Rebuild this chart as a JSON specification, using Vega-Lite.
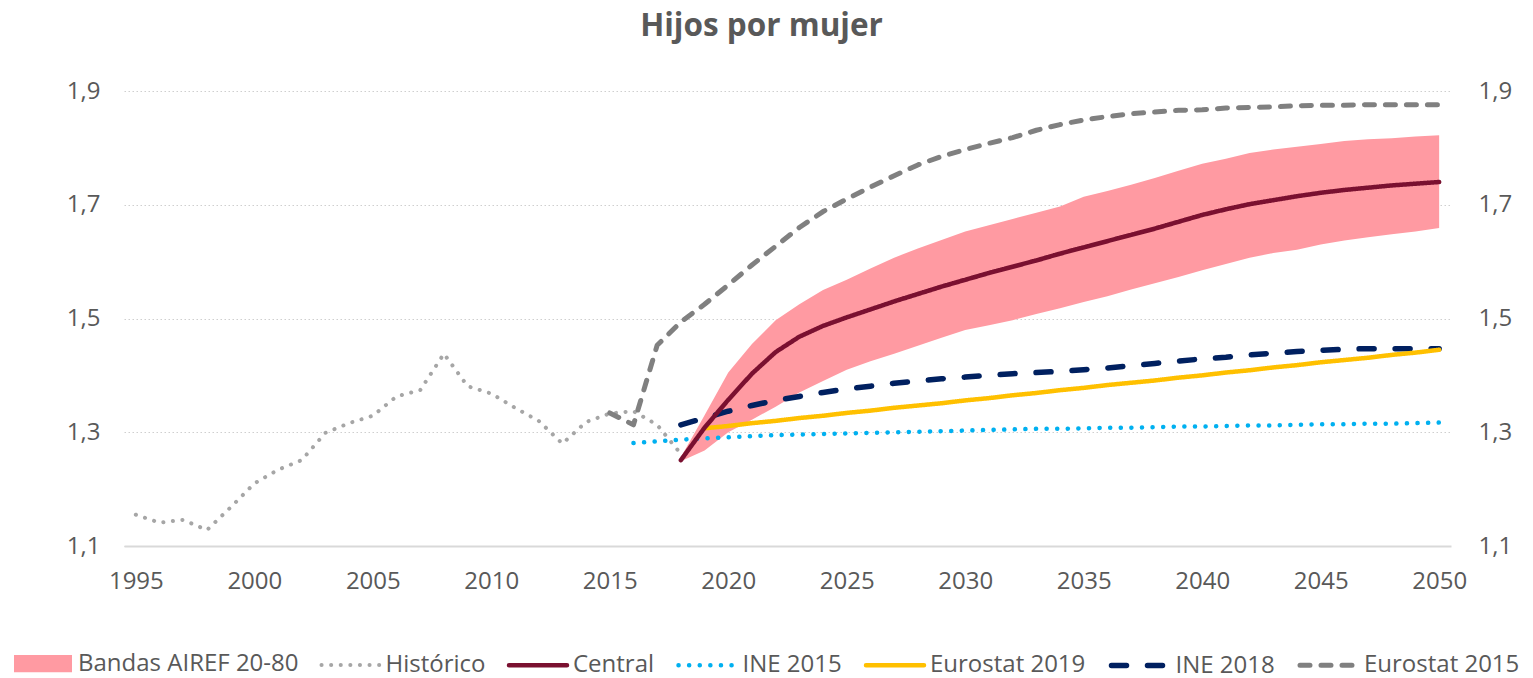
{
  "$schema": "https://vega.github.io/schema/vega-lite/v6.json",
  "width": 1327,
  "height": 455,
  "autosize": {"type": "none"},
  "padding": {"left": 124, "top": 91, "right": 82, "bottom": 132},
  "background": "#ffffff",
  "title": {"text": "Hijos por mujer", "font": "Open Sans", "fontSize": 31.5, "fontWeight": "bold", "color": "#595959", "anchor": "middle", "dx": -26, "offset": 37},
  "datasets": {
    "band": [
      {"year": 2018, "lo": 1.249, "hi": 1.256},
      {"year": 2019, "lo": 1.268, "hi": 1.330},
      {"year": 2020, "lo": 1.300, "hi": 1.405},
      {"year": 2021, "lo": 1.322, "hi": 1.455},
      {"year": 2022, "lo": 1.345, "hi": 1.497},
      {"year": 2023, "lo": 1.370, "hi": 1.525},
      {"year": 2024, "lo": 1.390, "hi": 1.550},
      {"year": 2025, "lo": 1.410, "hi": 1.568},
      {"year": 2026, "lo": 1.425, "hi": 1.588},
      {"year": 2027, "lo": 1.438, "hi": 1.607},
      {"year": 2028, "lo": 1.452, "hi": 1.623},
      {"year": 2029, "lo": 1.466, "hi": 1.638},
      {"year": 2030, "lo": 1.480, "hi": 1.653},
      {"year": 2031, "lo": 1.488, "hi": 1.664},
      {"year": 2032, "lo": 1.497, "hi": 1.675},
      {"year": 2033, "lo": 1.508, "hi": 1.686},
      {"year": 2034, "lo": 1.518, "hi": 1.697},
      {"year": 2035, "lo": 1.529, "hi": 1.714},
      {"year": 2036, "lo": 1.539, "hi": 1.724},
      {"year": 2037, "lo": 1.551, "hi": 1.735},
      {"year": 2038, "lo": 1.562, "hi": 1.747},
      {"year": 2039, "lo": 1.573, "hi": 1.760},
      {"year": 2040, "lo": 1.585, "hi": 1.772},
      {"year": 2041, "lo": 1.596, "hi": 1.781},
      {"year": 2042, "lo": 1.607, "hi": 1.791},
      {"year": 2043, "lo": 1.615, "hi": 1.797},
      {"year": 2044, "lo": 1.621, "hi": 1.802},
      {"year": 2045, "lo": 1.630, "hi": 1.807},
      {"year": 2046, "lo": 1.637, "hi": 1.812},
      {"year": 2047, "lo": 1.643, "hi": 1.815},
      {"year": 2048, "lo": 1.648, "hi": 1.817},
      {"year": 2049, "lo": 1.653, "hi": 1.820},
      {"year": 2050, "lo": 1.659, "hi": 1.822}
    ],
    "series": [
      {"year": 1995, "serie": "Histórico", "value": 1.155},
      {"year": 1996, "serie": "Histórico", "value": 1.141},
      {"year": 1997, "serie": "Histórico", "value": 1.146},
      {"year": 1998, "serie": "Histórico", "value": 1.128},
      {"year": 1999, "serie": "Histórico", "value": 1.168},
      {"year": 2000, "serie": "Histórico", "value": 1.210},
      {"year": 2001, "serie": "Histórico", "value": 1.234},
      {"year": 2002, "serie": "Histórico", "value": 1.251},
      {"year": 2003, "serie": "Histórico", "value": 1.299},
      {"year": 2004, "serie": "Histórico", "value": 1.316},
      {"year": 2005, "serie": "Histórico", "value": 1.329},
      {"year": 2006, "serie": "Histórico", "value": 1.363},
      {"year": 2007, "serie": "Histórico", "value": 1.374},
      {"year": 2008, "serie": "Histórico", "value": 1.438},
      {"year": 2009, "serie": "Histórico", "value": 1.381},
      {"year": 2010, "serie": "Histórico", "value": 1.368},
      {"year": 2011, "serie": "Histórico", "value": 1.343},
      {"year": 2012, "serie": "Histórico", "value": 1.320},
      {"year": 2013, "serie": "Histórico", "value": 1.280},
      {"year": 2014, "serie": "Histórico", "value": 1.318},
      {"year": 2015, "serie": "Histórico", "value": 1.333},
      {"year": 2016, "serie": "Histórico", "value": 1.337},
      {"year": 2017, "serie": "Histórico", "value": 1.313},
      {"year": 2018, "serie": "Histórico", "value": 1.262},

      {"year": 2016, "serie": "INE 2015", "value": 1.281},
      {"year": 2017, "serie": "INE 2015", "value": 1.284},
      {"year": 2018, "serie": "INE 2015", "value": 1.287},
      {"year": 2019, "serie": "INE 2015", "value": 1.289},
      {"year": 2020, "serie": "INE 2015", "value": 1.291},
      {"year": 2021, "serie": "INE 2015", "value": 1.293},
      {"year": 2022, "serie": "INE 2015", "value": 1.295},
      {"year": 2023, "serie": "INE 2015", "value": 1.296},
      {"year": 2024, "serie": "INE 2015", "value": 1.297},
      {"year": 2025, "serie": "INE 2015", "value": 1.298},
      {"year": 2026, "serie": "INE 2015", "value": 1.299},
      {"year": 2027, "serie": "INE 2015", "value": 1.300},
      {"year": 2028, "serie": "INE 2015", "value": 1.301},
      {"year": 2029, "serie": "INE 2015", "value": 1.302},
      {"year": 2030, "serie": "INE 2015", "value": 1.303},
      {"year": 2031, "serie": "INE 2015", "value": 1.304},
      {"year": 2032, "serie": "INE 2015", "value": 1.305},
      {"year": 2033, "serie": "INE 2015", "value": 1.306},
      {"year": 2034, "serie": "INE 2015", "value": 1.306},
      {"year": 2035, "serie": "INE 2015", "value": 1.307},
      {"year": 2036, "serie": "INE 2015", "value": 1.308},
      {"year": 2037, "serie": "INE 2015", "value": 1.308},
      {"year": 2038, "serie": "INE 2015", "value": 1.309},
      {"year": 2039, "serie": "INE 2015", "value": 1.310},
      {"year": 2040, "serie": "INE 2015", "value": 1.310},
      {"year": 2041, "serie": "INE 2015", "value": 1.311},
      {"year": 2042, "serie": "INE 2015", "value": 1.312},
      {"year": 2043, "serie": "INE 2015", "value": 1.312},
      {"year": 2044, "serie": "INE 2015", "value": 1.313},
      {"year": 2045, "serie": "INE 2015", "value": 1.314},
      {"year": 2046, "serie": "INE 2015", "value": 1.314},
      {"year": 2047, "serie": "INE 2015", "value": 1.315},
      {"year": 2048, "serie": "INE 2015", "value": 1.315},
      {"year": 2049, "serie": "INE 2015", "value": 1.316},
      {"year": 2050, "serie": "INE 2015", "value": 1.317},

      {"year": 2015, "serie": "Eurostat 2015", "value": 1.334},
      {"year": 2016, "serie": "Eurostat 2015", "value": 1.313},
      {"year": 2017, "serie": "Eurostat 2015", "value": 1.453},
      {"year": 2018, "serie": "Eurostat 2015", "value": 1.494},
      {"year": 2019, "serie": "Eurostat 2015", "value": 1.525},
      {"year": 2020, "serie": "Eurostat 2015", "value": 1.559},
      {"year": 2021, "serie": "Eurostat 2015", "value": 1.594},
      {"year": 2022, "serie": "Eurostat 2015", "value": 1.627},
      {"year": 2023, "serie": "Eurostat 2015", "value": 1.660},
      {"year": 2024, "serie": "Eurostat 2015", "value": 1.688},
      {"year": 2025, "serie": "Eurostat 2015", "value": 1.710},
      {"year": 2026, "serie": "Eurostat 2015", "value": 1.731},
      {"year": 2027, "serie": "Eurostat 2015", "value": 1.751},
      {"year": 2028, "serie": "Eurostat 2015", "value": 1.770},
      {"year": 2029, "serie": "Eurostat 2015", "value": 1.785},
      {"year": 2030, "serie": "Eurostat 2015", "value": 1.797},
      {"year": 2031, "serie": "Eurostat 2015", "value": 1.808},
      {"year": 2032, "serie": "Eurostat 2015", "value": 1.818},
      {"year": 2033, "serie": "Eurostat 2015", "value": 1.831},
      {"year": 2034, "serie": "Eurostat 2015", "value": 1.841},
      {"year": 2035, "serie": "Eurostat 2015", "value": 1.849},
      {"year": 2036, "serie": "Eurostat 2015", "value": 1.855},
      {"year": 2037, "serie": "Eurostat 2015", "value": 1.860},
      {"year": 2038, "serie": "Eurostat 2015", "value": 1.863},
      {"year": 2039, "serie": "Eurostat 2015", "value": 1.866},
      {"year": 2040, "serie": "Eurostat 2015", "value": 1.867},
      {"year": 2041, "serie": "Eurostat 2015", "value": 1.870},
      {"year": 2042, "serie": "Eurostat 2015", "value": 1.871},
      {"year": 2043, "serie": "Eurostat 2015", "value": 1.872},
      {"year": 2044, "serie": "Eurostat 2015", "value": 1.874},
      {"year": 2045, "serie": "Eurostat 2015", "value": 1.875},
      {"year": 2046, "serie": "Eurostat 2015", "value": 1.875},
      {"year": 2047, "serie": "Eurostat 2015", "value": 1.876},
      {"year": 2048, "serie": "Eurostat 2015", "value": 1.876},
      {"year": 2049, "serie": "Eurostat 2015", "value": 1.876},
      {"year": 2050, "serie": "Eurostat 2015", "value": 1.876},

      {"year": 2018, "serie": "INE 2018", "value": 1.313},
      {"year": 2019, "serie": "INE 2018", "value": 1.325},
      {"year": 2020, "serie": "INE 2018", "value": 1.337},
      {"year": 2021, "serie": "INE 2018", "value": 1.347},
      {"year": 2022, "serie": "INE 2018", "value": 1.356},
      {"year": 2023, "serie": "INE 2018", "value": 1.363},
      {"year": 2024, "serie": "INE 2018", "value": 1.370},
      {"year": 2025, "serie": "INE 2018", "value": 1.376},
      {"year": 2026, "serie": "INE 2018", "value": 1.381},
      {"year": 2027, "serie": "INE 2018", "value": 1.386},
      {"year": 2028, "serie": "INE 2018", "value": 1.390},
      {"year": 2029, "serie": "INE 2018", "value": 1.394},
      {"year": 2030, "serie": "INE 2018", "value": 1.397},
      {"year": 2031, "serie": "INE 2018", "value": 1.400},
      {"year": 2032, "serie": "INE 2018", "value": 1.403},
      {"year": 2033, "serie": "INE 2018", "value": 1.405},
      {"year": 2034, "serie": "INE 2018", "value": 1.407},
      {"year": 2035, "serie": "INE 2018", "value": 1.410},
      {"year": 2036, "serie": "INE 2018", "value": 1.413},
      {"year": 2037, "serie": "INE 2018", "value": 1.417},
      {"year": 2038, "serie": "INE 2018", "value": 1.421},
      {"year": 2039, "serie": "INE 2018", "value": 1.425},
      {"year": 2040, "serie": "INE 2018", "value": 1.429},
      {"year": 2041, "serie": "INE 2018", "value": 1.432},
      {"year": 2042, "serie": "INE 2018", "value": 1.436},
      {"year": 2043, "serie": "INE 2018", "value": 1.439},
      {"year": 2044, "serie": "INE 2018", "value": 1.442},
      {"year": 2045, "serie": "INE 2018", "value": 1.444},
      {"year": 2046, "serie": "INE 2018", "value": 1.446},
      {"year": 2047, "serie": "INE 2018", "value": 1.447},
      {"year": 2048, "serie": "INE 2018", "value": 1.447},
      {"year": 2049, "serie": "INE 2018", "value": 1.447},
      {"year": 2050, "serie": "INE 2018", "value": 1.447},

      {"year": 2019, "serie": "Eurostat 2019", "value": 1.307},
      {"year": 2020, "serie": "Eurostat 2019", "value": 1.311},
      {"year": 2021, "serie": "Eurostat 2019", "value": 1.316},
      {"year": 2022, "serie": "Eurostat 2019", "value": 1.320},
      {"year": 2023, "serie": "Eurostat 2019", "value": 1.325},
      {"year": 2024, "serie": "Eurostat 2019", "value": 1.329},
      {"year": 2025, "serie": "Eurostat 2019", "value": 1.334},
      {"year": 2026, "serie": "Eurostat 2019", "value": 1.338},
      {"year": 2027, "serie": "Eurostat 2019", "value": 1.343},
      {"year": 2028, "serie": "Eurostat 2019", "value": 1.347},
      {"year": 2029, "serie": "Eurostat 2019", "value": 1.351},
      {"year": 2030, "serie": "Eurostat 2019", "value": 1.356},
      {"year": 2031, "serie": "Eurostat 2019", "value": 1.360},
      {"year": 2032, "serie": "Eurostat 2019", "value": 1.365},
      {"year": 2033, "serie": "Eurostat 2019", "value": 1.369},
      {"year": 2034, "serie": "Eurostat 2019", "value": 1.374},
      {"year": 2035, "serie": "Eurostat 2019", "value": 1.378},
      {"year": 2036, "serie": "Eurostat 2019", "value": 1.383},
      {"year": 2037, "serie": "Eurostat 2019", "value": 1.387},
      {"year": 2038, "serie": "Eurostat 2019", "value": 1.391},
      {"year": 2039, "serie": "Eurostat 2019", "value": 1.396},
      {"year": 2040, "serie": "Eurostat 2019", "value": 1.400},
      {"year": 2041, "serie": "Eurostat 2019", "value": 1.405},
      {"year": 2042, "serie": "Eurostat 2019", "value": 1.409},
      {"year": 2043, "serie": "Eurostat 2019", "value": 1.414},
      {"year": 2044, "serie": "Eurostat 2019", "value": 1.418},
      {"year": 2045, "serie": "Eurostat 2019", "value": 1.423},
      {"year": 2046, "serie": "Eurostat 2019", "value": 1.427},
      {"year": 2047, "serie": "Eurostat 2019", "value": 1.431},
      {"year": 2048, "serie": "Eurostat 2019", "value": 1.436},
      {"year": 2049, "serie": "Eurostat 2019", "value": 1.440},
      {"year": 2050, "serie": "Eurostat 2019", "value": 1.445},

      {"year": 2018, "serie": "Central", "value": 1.251},
      {"year": 2019, "serie": "Central", "value": 1.308},
      {"year": 2020, "serie": "Central", "value": 1.357},
      {"year": 2021, "serie": "Central", "value": 1.403},
      {"year": 2022, "serie": "Central", "value": 1.441},
      {"year": 2023, "serie": "Central", "value": 1.468},
      {"year": 2024, "serie": "Central", "value": 1.487},
      {"year": 2025, "serie": "Central", "value": 1.502},
      {"year": 2026, "serie": "Central", "value": 1.516},
      {"year": 2027, "serie": "Central", "value": 1.530},
      {"year": 2028, "serie": "Central", "value": 1.543},
      {"year": 2029, "serie": "Central", "value": 1.556},
      {"year": 2030, "serie": "Central", "value": 1.568},
      {"year": 2031, "serie": "Central", "value": 1.580},
      {"year": 2032, "serie": "Central", "value": 1.591},
      {"year": 2033, "serie": "Central", "value": 1.602},
      {"year": 2034, "serie": "Central", "value": 1.614},
      {"year": 2035, "serie": "Central", "value": 1.625},
      {"year": 2036, "serie": "Central", "value": 1.636},
      {"year": 2037, "serie": "Central", "value": 1.647},
      {"year": 2038, "serie": "Central", "value": 1.658},
      {"year": 2039, "serie": "Central", "value": 1.670},
      {"year": 2040, "serie": "Central", "value": 1.682},
      {"year": 2041, "serie": "Central", "value": 1.692},
      {"year": 2042, "serie": "Central", "value": 1.701},
      {"year": 2043, "serie": "Central", "value": 1.708},
      {"year": 2044, "serie": "Central", "value": 1.715},
      {"year": 2045, "serie": "Central", "value": 1.721},
      {"year": 2046, "serie": "Central", "value": 1.726},
      {"year": 2047, "serie": "Central", "value": 1.730},
      {"year": 2048, "serie": "Central", "value": 1.734},
      {"year": 2049, "serie": "Central", "value": 1.737},
      {"year": 2050, "serie": "Central", "value": 1.740}
    ]
  },
  "layer": [
    {
      "data": {"name": "band"},
      "mark": {"type": "area", "opacity": 1},
      "encoding": {
        "x": {"field": "year", "type": "quantitative", "scale": {"domain": [1994.5, 2050.5], "nice": false, "zero": false},
              "axis": {"values": [1995, 2000, 2005, 2010, 2015, 2020, 2025, 2030, 2035, 2040, 2045, 2050], "format": "d", "grid": false, "domain": true, "domainColor": "#D9D9D9", "domainWidth": 2, "labelPadding": 23, "title": null}},
        "y": {"field": "lo", "type": "quantitative", "scale": {"domain": [1.1, 1.9], "nice": false, "zero": false},
              "axis": {"orient": "left", "values": [1.1, 1.3, 1.5, 1.7, 1.9], "labelExpr": "replace(format(datum.value, '.1f'), '.', ',')", "grid": true, "gridDash": [1.5, 2.5], "gridColor": "#CFCFCF", "gridWidth": 1.2, "domain": false, "labelPadding": 24, "title": null}},
        "y2": {"field": "hi"},
        "color": {"datum": "Bandas AIREF 20-80"}
      }
    },
    {
      "data": {"name": "series"},
      "mark": {"type": "line", "strokeCap": "round", "strokeJoin": "round"},
      "encoding": {
        "x": {"field": "year", "type": "quantitative",
              "axis": {"values": [1995, 2000, 2005, 2010, 2015, 2020, 2025, 2030, 2035, 2040, 2045, 2050], "format": "d", "grid": false, "domain": true, "domainColor": "#D9D9D9", "domainWidth": 2, "labelPadding": 23, "title": null}},
        "y": {"field": "value", "type": "quantitative",
              "axis": {"orient": "right", "values": [1.1, 1.3, 1.5, 1.7, 1.9], "labelExpr": "replace(format(datum.value, '.1f'), '.', ',')", "grid": false, "domain": false, "labelPadding": 27, "title": null}},
        "color": {"field": "serie", "type": "nominal",
                  "scale": {"domain": ["Bandas AIREF 20-80", "Histórico", "Central", "INE 2015", "Eurostat 2019", "INE 2018", "Eurostat 2015"],
                            "range": ["#FF9AA2", "#A6A6A6", "#7A1030", "#00B0F0", "#FFC000", "#002060", "#808080"]},
                  "legend": {"title": null, "orient": "none", "legendX": -113, "legendY": 541, "direction": "horizontal", "columns": 7,
                             "symbolType": "stroke", "symbolSize": 3364, "symbolStrokeWidth": 4.5, "labelFont": "Open Sans", "labelFontSize": 24, "labelColor": "#595959",
                             "labelOffset": 3, "columnPadding": 14.5, "symbolOpacity": 1, "labelLimit": 400,
                             "encode": {"symbols": {"update": {
                               "shape": {"signal": "datum.value === 'Bandas AIREF 20-80' ? 'M-0.922,-0.216H0.922V0.216H-0.922Z' : 'stroke'"},
                               "fill": {"signal": "datum.value === 'Bandas AIREF 20-80' ? '#FF9AA2' : 'transparent'"},
                               "strokeCap": {"value": "round"}}}}}},
        "strokeDash": {"field": "serie", "type": "nominal",
                       "scale": {"domain": ["Bandas AIREF 20-80", "Histórico", "Central", "INE 2015", "Eurostat 2019", "INE 2018", "Eurostat 2015"],
                                 "range": [[1, 0], [0.1, 9.5], [1, 0], [0.1, 10.5], [1, 0], [15, 21], [10, 11]]}},
        "strokeWidth": {"field": "serie", "type": "nominal",
                        "scale": {"type": "ordinal", "domain": ["Bandas AIREF 20-80", "Histórico", "Central", "INE 2015", "Eurostat 2019", "INE 2018", "Eurostat 2015"],
                                  "range": [4.5, 4, 4.5, 4.5, 4.5, 5.5, 5]}}
      }
    }
  ],
  "resolve": {"axis": {"y": "independent"}},
  "config": {
    "view": {"stroke": null},
    "axis": {"labelFont": "Open Sans", "labelFontSize": 24, "labelColor": "#595959", "ticks": false, "tickSize": 0}
  }
}
